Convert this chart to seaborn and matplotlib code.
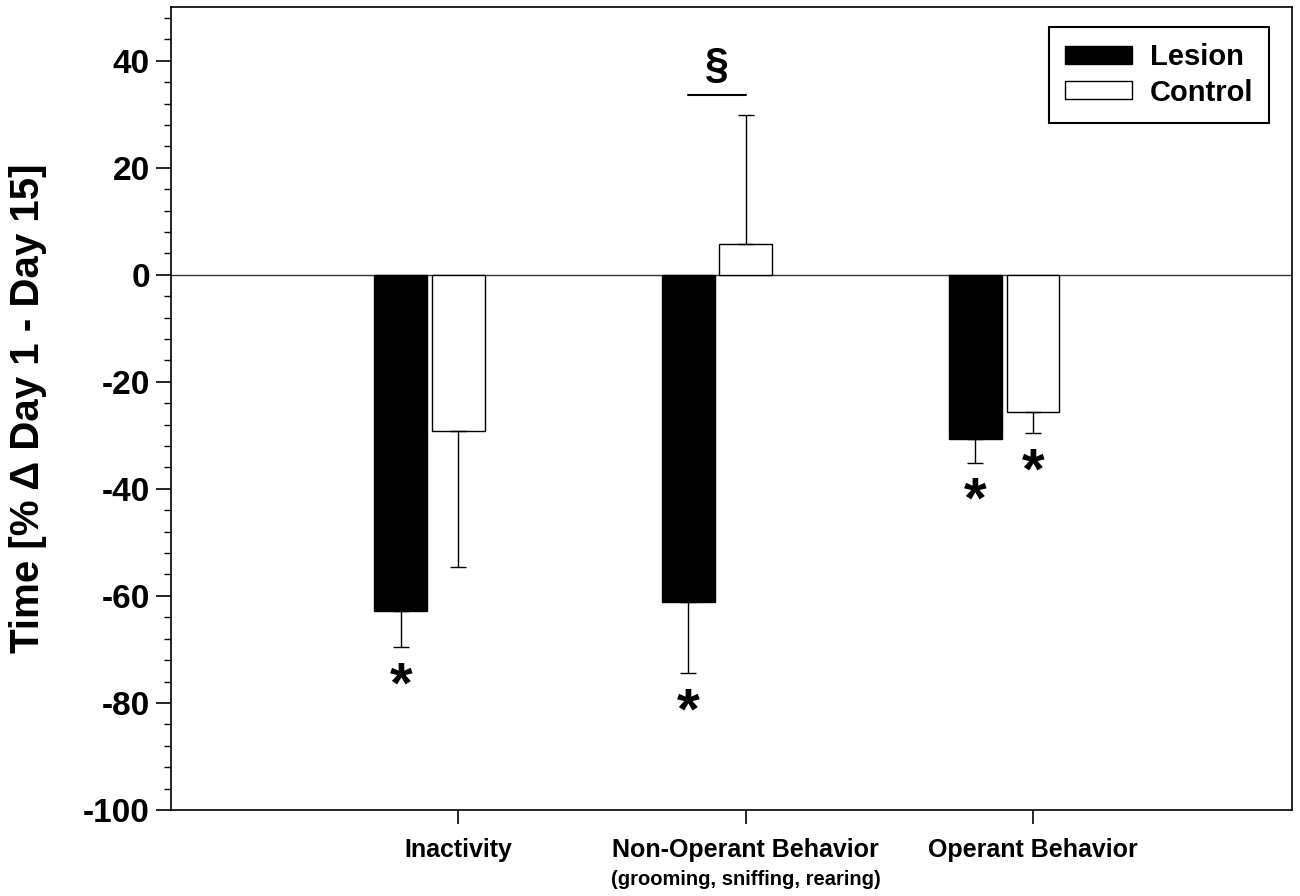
import matplotlib
matplotlib.use("Agg")
import matplotlib.pyplot as plt
import matplotlib.transforms as mtransforms
from matplotlib.patches import Patch
from matplotlib.ticker import MultipleLocator
import seaborn as sns
import pandas as pd

# values (% change day 1 -> day 15)
behaviors = ["Inactivity", "Non-Operant Behavior", "Operant Behavior"]
groups = ["Lesion", "Control"]
lesion_mean = [-62.8, -61.2, -30.6]
lesion_sem = [6.8, 13.2, 4.5]
control_mean = [-29.2, 5.8, -25.7]
control_sem = [25.4, 24.1, 3.9]
lesion_sig = [True, True, True]
control_sig = [False, False, True]
subtitle = "(grooming, sniffing, rearing)"

df = pd.DataFrame({
    "behavior": behaviors * 2,
    "group": ["Lesion"] * 3 + ["Control"] * 3,
    "change": lesion_mean + control_mean,
})

sns.set_style("ticks")
plt.rcParams["font.family"] = ["Liberation Sans", "DejaVu Sans"]
plt.rcParams["font.weight"] = "bold"
plt.rcParams["axes.unicode_minus"] = False
plt.rcParams["text.color"] = "black"
plt.rcParams["axes.labelcolor"] = "black"
plt.rcParams["xtick.color"] = "black"
plt.rcParams["ytick.color"] = "black"

fig = plt.figure(figsize=(13, 8.96), dpi=100)
ax = fig.add_axes([0.1315, 0.096, 0.862, 0.896])

sns.barplot(data=df, x="behavior", y="change", hue="group", order=behaviors,
            hue_order=groups, palette={"Lesion": "black", "Control": "white"},
            edgecolor="black", linewidth=1, width=0.4, gap=0.08,
            errorbar=None, legend=False, ax=ax)

# one-sided error bars (away from zero) + significance stars
sems = [lesion_sem, control_sem]
sigs = [lesion_sig, control_sig]
for cont, sem, sig in zip(ax.containers, sems, sigs):
    for bar, e, s in zip(cont, sem, sig):
        x = bar.get_x() + bar.get_width() / 2
        val = bar.get_height() if bar.get_y() >= 0 else bar.get_y()
        yerr = [[e], [0]] if val < 0 else [[0], [e]]
        ax.errorbar(x, val, yerr=yerr, fmt="none", ecolor="black",
                    elinewidth=1, capsize=6, capthick=1)
        if s:
            ax.text(x, val - e - 7.5, "*", ha="center", va="center",
                    fontsize=42, fontweight="bold")

ax.axhline(0, color="#333333", lw=1, zorder=0.5)

# section sign over the non-operant pair
lx = [b.get_x() + b.get_width() / 2 for b in (ax.containers[0][1], ax.containers[1][1])]
ax.plot(lx, [33.6, 33.6], color="black", lw=1.5)
ax.text(sum(lx) / 2, 39.0, "§", ha="center", va="center", fontsize=31,
        fontweight="bold")

ax.set_ylim(-100, 50)
ax.set_xlim(-0.9, 3.0)
ax.yaxis.set_minor_locator(MultipleLocator(4))
ax.set_yticks([-100, -80, -60, -40, -20, 0, 20, 40])
ax.set_xticks([i + 0.1 for i in range(len(behaviors))])
ax.set_xticklabels(behaviors, fontsize=18, fontweight="bold")
ax.tick_params(axis="y", which="major", length=11, width=1.2, labelsize=24, pad=4)
ax.tick_params(axis="y", which="minor", length=5, width=1)
ax.tick_params(axis="x", length=10, width=1.2, pad=10)
for lab in ax.get_yticklabels():
    lab.set_fontweight("bold")
for sp in ax.spines.values():
    sp.set_visible(True)
    sp.set_linewidth(1.2)
    sp.set_color("black")

trans = mtransforms.blended_transform_factory(ax.transData, ax.transAxes)
ax.text(1.1, -0.086, subtitle, transform=trans, ha="center", va="center",
        fontsize=14.5, fontweight="bold")

ax.set_xlabel("")
ax.set_ylabel("Time [% \u0394 Day 1 - Day 15]", fontsize=29, fontweight="bold",
              labelpad=26)

handles = [Patch(facecolor="black", edgecolor="black", label="Lesion"),
           Patch(facecolor="white", edgecolor="black", label="Control")]
leg = ax.legend(handles=handles, loc="upper right", bbox_to_anchor=(0.98, 0.975),
                borderaxespad=0, fancybox=False, edgecolor="black",
                framealpha=1, handlelength=2.3, handleheight=0.55,
                labelspacing=0.25, borderpad=0.55, handletextpad=0.6,
                prop={"size": 21, "weight": "bold"})
leg.get_frame().set_linewidth(1.5)

fig.savefig("out.png", dpi=100)
